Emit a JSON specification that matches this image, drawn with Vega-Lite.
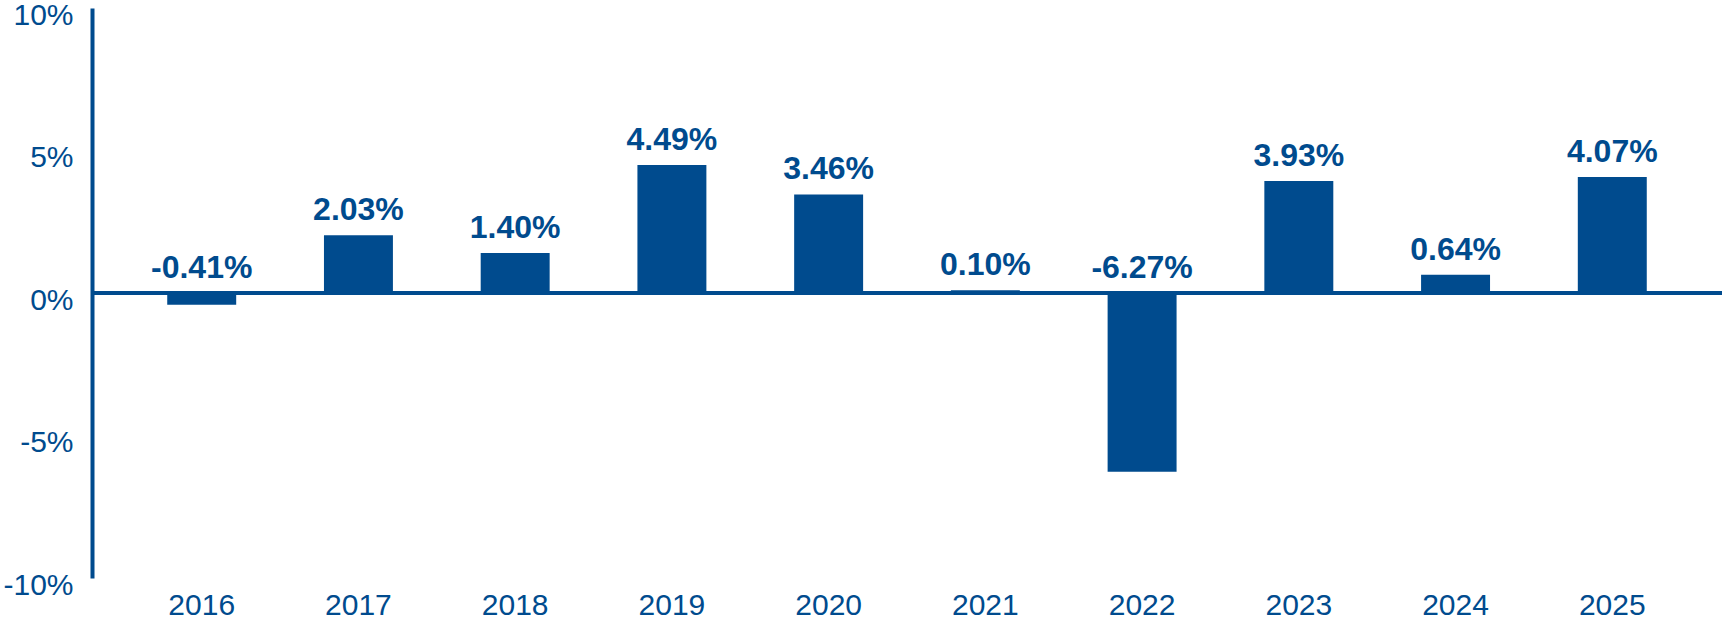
{
  "$schema": "https://vega.github.io/schema/vega-lite/v6.json",
  "width": 1630,
  "height": 570,
  "autosize": {"type": "none"},
  "padding": {"left": 92, "top": 8, "right": 1, "bottom": 46},
  "background": "white",
  "config": {"view": {"stroke": null}, "font": "Liberation Sans"},
  "data": {
    "values": [
      {"year": "2016", "value": -0.41},
      {"year": "2017", "value": 2.03},
      {"year": "2018", "value": 1.40},
      {"year": "2019", "value": 4.49},
      {"year": "2020", "value": 3.46},
      {"year": "2021", "value": 0.10},
      {"year": "2022", "value": -6.27},
      {"year": "2023", "value": 3.93},
      {"year": "2024", "value": 0.64},
      {"year": "2025", "value": 4.07}
    ]
  },
  "layer": [
    {
      "mark": {"type": "bar", "color": "#004B8E"},
      "encoding": {
        "x": {
          "field": "year", "type": "ordinal",
          "scale": {"paddingInner": 0.56, "paddingOuter": 0.48},
          "axis": {
            "title": null, "domain": false, "ticks": false, "labelAngle": 0,
            "labelFontSize": 30, "labelColor": "#004B8E", "labelPadding": 12,
            "labelFont": "Liberation Sans"
          }
        },
        "y": {
          "field": "value", "type": "quantitative",
          "scale": {"domain": [-10, 10], "nice": false, "zero": false},
          "axis": {
            "title": null, "grid": false, "ticks": false,
            "values": [-10, -5, 0, 5, 10],
            "labelExpr": "datum.value + '%'",
            "domain": true, "domainColor": "#004B8E", "domainWidth": 4,
            "labelFontSize": 30, "labelColor": "#004B8E", "labelPadding": 19,
            "labelOffset": 7, "labelFlush": false, "labelOverlap": false,
            "labelFont": "Liberation Sans"
          }
        }
      }
    },
    {
      "mark": {"type": "rule", "color": "#004B8E", "strokeWidth": 3.5},
      "encoding": {"y": {"datum": 0, "type": "quantitative"}}
    },
    {
      "transform": [
        {"filter": "datum.value >= 0"},
        {"calculate": "format(datum.value, '.2f') + '%'", "as": "label"}
      ],
      "mark": {"type": "text", "color": "#004B8E", "fontSize": 32, "fontWeight": "bold", "baseline": "alphabetic", "dy": -15, "font": "Liberation Sans"},
      "encoding": {
        "x": {"field": "year", "type": "ordinal"},
        "y": {"field": "value", "type": "quantitative"},
        "text": {"field": "label"}
      }
    },
    {
      "transform": [
        {"filter": "datum.value < 0"},
        {"calculate": "'-' + format(abs(datum.value), '.2f') + '%'", "as": "label"}
      ],
      "mark": {"type": "text", "color": "#004B8E", "fontSize": 32, "fontWeight": "bold", "baseline": "alphabetic", "dy": -15, "font": "Liberation Sans"},
      "encoding": {
        "x": {"field": "year", "type": "ordinal"},
        "y": {"datum": 0, "type": "quantitative"},
        "text": {"field": "label"}
      }
    }
  ]
}
